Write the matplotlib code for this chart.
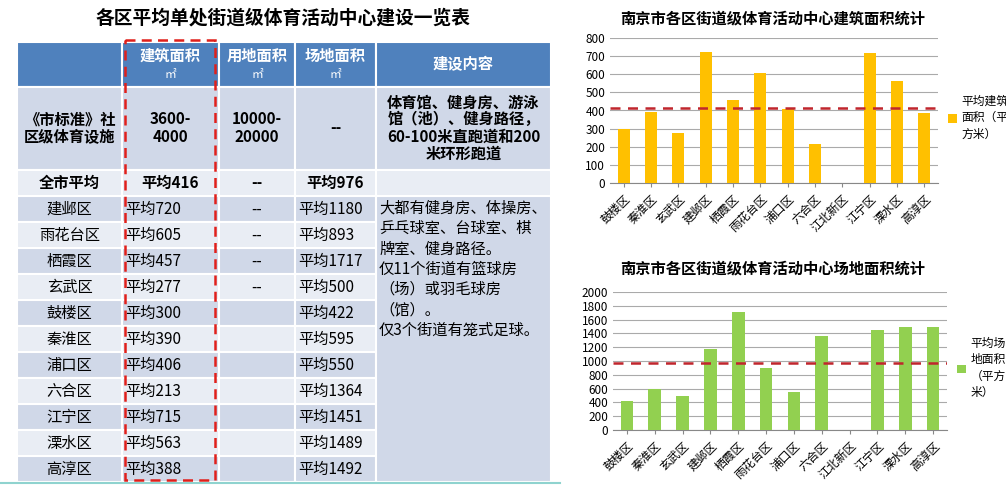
import matplotlib
matplotlib.use("Agg")
import matplotlib.pyplot as plt
from matplotlib.patches import Rectangle

plt.rcParams['font.family'] = ['Noto Sans CJK SC', 'DejaVu Sans']

W, H = 1006, 486
# ---- data ----
chart_districts = ["鼓楼区", "秦淮区", "玄武区", "建邺区", "栖霞区", "雨花台区", "浦口区",
                   "六合区", "江北新区", "江宁区", "溧水区", "高淳区"]
build_area = [300, 390, 277, 720, 457, 605, 406, 213, 0, 715, 563, 388]
site_area = [422, 595, 500, 1180, 1717, 893, 550, 1364, 0, 1451, 1489, 1492]
avg_build = 416
avg_site = 976

tbl_districts = ["建邺区", "雨花台区", "栖霞区", "玄武区", "鼓楼区", "秦淮区", "浦口区",
                 "六合区", "江宁区", "溧水区", "高淳区"]
tbl_build = ["平均720", "平均605", "平均457", "平均277", "平均300", "平均390", "平均406",
             "平均213", "平均715", "平均563", "平均388"]
tbl_land = ["--", "--", "--", "--", "", "", "", "", "", "", ""]
tbl_site = ["平均1180", "平均893", "平均1717", "平均500", "平均422", "平均595", "平均550",
            "平均1364", "平均1451", "平均1489", "平均1492"]
header = ["", "建筑面积\n㎡", "用地面积\n㎡", "场地面积\n㎡", "建设内容"]
std_row = ["《市标准》社\n区级体育设施", "3600-\n4000", "10000-\n20000", "--",
           "体育馆、健身房、游泳\n馆（池）、健身路径，\n60-100米直跑道和200\n米环形跑道"]
avg_row = ["全市平均", "平均416", "--", "平均976", ""]
content_text = ("大都有健身房、体操房、\n乒乓球室、台球室、棋\n牌室、健身路径。\n仅11个街道有篮球房\n"
                "（场）或羽毛球房\n（馆）。\n仅3个街道有笼式足球。")

fig = plt.figure(figsize=(W / 100, H / 100), dpi=100)
bg = fig.add_axes([0, 0, 1, 1])
bg.set_xlim(0, W); bg.set_ylim(H, 0); bg.axis('off')

HDR = '#4F81BD'; DARK = '#D0D8E8'; LIGHT = '#E9EDF4'
cols = [17, 122, 219, 295, 376, 551]
FS = 11

def cell(x0, x1, y0, y1, color):
    bg.add_patch(Rectangle((x0, y0), x1 - x0, y1 - y0, facecolor=color, edgecolor='white', lw=1.5))

bg.text(283, 18, "各区平均单处街道级体育活动中心建设一览表", ha='center', va='center',
        fontsize=13.5, fontweight='bold')
# header
for i in range(5):
    cell(cols[i], cols[i + 1], 42, 87, HDR)
    t = header[i]
    if '\n' in t:
        a, b = t.split('\n')
        bg.text((cols[i] + cols[i + 1]) / 2, 56, a, ha='center', va='center', color='white', fontsize=FS, fontweight='bold')
        bg.text((cols[i] + cols[i + 1]) / 2, 75, b, ha='center', va='center', color='white', fontsize=8.5)
    elif t:
        bg.text((cols[i] + cols[i + 1]) / 2, 64, t, ha='center', va='center', color='white', fontsize=FS, fontweight='bold')
# standard row
for i in range(5):
    cell(cols[i], cols[i + 1], 87, 170, DARK)
    bg.text((cols[i] + cols[i + 1]) / 2, 128, std_row[i], ha='center', va='center', fontsize=FS,
            fontweight='bold', linespacing=1.1)
# avg row
for i in range(5):
    cell(cols[i], cols[i + 1], 170, 196, LIGHT)
    bg.text((cols[i] + cols[i + 1]) / 2, 183, avg_row[i], ha='center', va='center', fontsize=FS, fontweight='bold')
# district rows
rh = 26
for r, d in enumerate(tbl_districts):
    y0 = 196 + r * rh
    c = DARK if r % 2 == 0 else LIGHT
    for i in range(4):
        cell(cols[i], cols[i + 1], y0, y0 + rh, c)
    yc = y0 + rh / 2
    bg.text((cols[0] + cols[1]) / 2, yc, d, ha='center', va='center', fontsize=FS)
    bg.text(cols[1] + 3, yc, tbl_build[r], ha='left', va='center', fontsize=FS)
    bg.text((cols[2] + cols[3]) / 2, yc, tbl_land[r], ha='center', va='center', fontsize=FS)
    bg.text(cols[3] + 3, yc, tbl_site[r], ha='left', va='center', fontsize=FS)
cell(cols[4], cols[5], 196, 196 + rh * len(tbl_districts), DARK)
bg.text(cols[4] + 3, 200, content_text, ha='left', va='top', fontsize=FS, linespacing=1.25)
# red dashed box
bg.add_patch(Rectangle((125, 40), 90, 440, fill=False, edgecolor='#E0201B', lw=1.8, ls=(0, (4, 2.5)), zorder=5))
bg.plot([0, 560], [483, 483], color='#8FD3CF', lw=1.5)

def pxax(x0, y0, x1, y1):
    return fig.add_axes([x0 / W, 1 - y1 / H, (x1 - x0) / W, (y1 - y0) / H])

def bar_chart(rect, vals, avg, color, ymax, step, title, ty, leg):
    ax = pxax(*rect)
    x = range(len(chart_districts))
    ax.bar(x, vals, width=0.45, color=color, zorder=3, label=leg)
    ax.axhline(avg, color='#C0262D', ls=(0, (4, 3)), lw=1.8, zorder=4)
    ax.set_ylim(0, ymax)
    ax.set_yticks(range(0, ymax + 1, step))
    ax.set_xlim(-0.5, len(chart_districts) - 0.5)
    ax.set_xticks(list(x))
    ax.set_xticklabels(chart_districts, rotation=45, ha='right', rotation_mode='anchor', fontsize=8.5)
    ax.tick_params(axis='y', labelsize=8.5, length=0)
    ax.tick_params(axis='x', length=3, color='#888888')
    ax.grid(axis='y', color='#AAAAAA', lw=0.8, zorder=0)
    for s in ['top', 'right', 'left']:
        ax.spines[s].set_visible(False)
    ax.spines['bottom'].set_color('#888888')
    fig.text(773 / W, 1 - ty / H, title, ha='center', va='center',
             fontsize=11, fontweight='bold')
    ax.legend(loc='center left', bbox_to_anchor=(1.01, 0.45), frameon=False, fontsize=8.5,
              handlelength=0.7, handleheight=0.7, handletextpad=0.4, borderaxespad=0.2)
    for t in ax.get_legend().get_texts():
        t.set_linespacing(1.35)
    return ax

bar_chart((610, 38, 938, 183), build_area, avg_build, '#FFC000', 800, 100,
          "南京市各区街道级体育活动中心建筑面积统计", 18, "平均建筑\n面积（平\n方米）")
bar_chart((613, 292, 947, 430), site_area, avg_site, '#92D050', 2000, 200,
          "南京市各区街道级体育活动中心场地面积统计", 268, "平均场\n地面积\n（平方\n米）")

fig.savefig("out.png", dpi=100)
